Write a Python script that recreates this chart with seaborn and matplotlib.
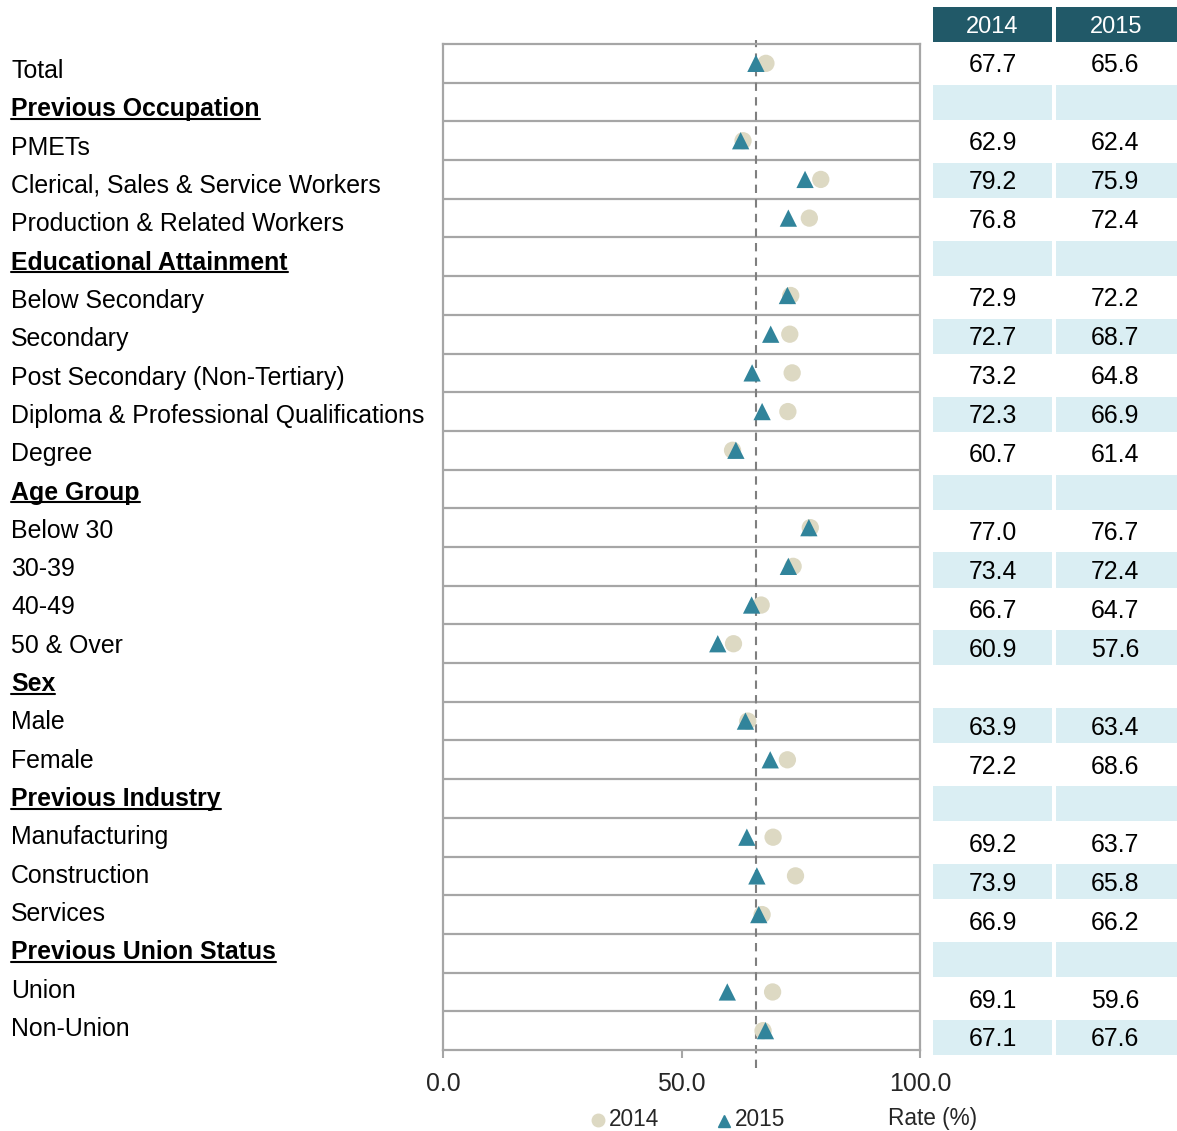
import numpy as np
import pandas as pd
import matplotlib
matplotlib.use("Agg")
import matplotlib.pyplot as plt
from matplotlib.lines import Line2D
from matplotlib.patches import Rectangle
import seaborn as sns

# ---- data -------------------------------------------------------------
row_labels = [
    "Total",
    "Previous Occupation",
    "PMETs",
    "Clerical, Sales & Service Workers",
    "Production & Related Workers",
    "Educational Attainment",
    "Below Secondary",
    "Secondary",
    "Post Secondary (Non-Tertiary)",
    "Diploma & Professional Qualifications",
    "Degree",
    "Age Group",
    "Below 30",
    "30-39",
    "40-49",
    "50 & Over",
    "Sex",
    "Male",
    "Female",
    "Previous Industry",
    "Manufacturing",
    "Construction",
    "Services",
    "Previous Union Status",
    "Union",
    "Non-Union",
]
section_headers = [
    "Previous Occupation",
    "Educational Attainment",
    "Age Group",
    "Sex",
    "Previous Industry",
    "Previous Union Status",
]
nan = np.nan
rate_2014 = [67.7, nan, 62.9, 79.2, 76.8, nan, 72.9, 72.7, 73.2, 72.3, 60.7,
             nan, 77.0, 73.4, 66.7, 60.9, nan, 63.9, 72.2, nan, 69.2, 73.9,
             66.9, nan, 69.1, 67.1]
rate_2015 = [65.6, nan, 62.4, 75.9, 72.4, nan, 72.2, 68.7, 64.8, 66.9, 61.4,
             nan, 76.7, 72.4, 64.7, 57.6, nan, 63.4, 68.6, nan, 63.7, 65.8,
             66.2, nan, 59.6, 67.6]
years = ["2014", "2015"]
x_ticks = [0.0, 50.0, 100.0]
reference_value = rate_2015[0]   # overall 2015 rate, drawn as dashed line

# ---- styling ----------------------------------------------------------
C_2014 = "#DDD9C3"
C_2015 = "#31849B"
HEADER = "#215968"
SHADE = "#DAEEF3"
GRID = "#A6A6A6"
FS = 17.9

sns.set_theme(style="white")
plt.rcParams["font.family"] = ["Liberation Sans", "DejaVu Sans"]

W, H = 1177, 1131
fig = plt.figure(figsize=(W / 100, H / 100), dpi=100)

def fx(px):
    return px / W

def fy(py):
    return 1 - py / H

# main dot plot axes
ax = fig.add_axes([fx(443), fy(1050), fx(920) - fx(443), fy(44) - fy(1050)])

n = len(row_labels)
rows = list(range(n))
df = pd.DataFrame({
    "row": rows * 2,
    "rate": rate_2014 + rate_2015,
    "year": [years[0]] * n + [years[1]] * n,
}).dropna()

sns.scatterplot(
    data=df, x="rate", y="row", hue="year", style="year",
    palette={"2014": C_2014, "2015": C_2015},
    markers={"2014": "o", "2015": "^"},
    s=155, linewidth=0, alpha=1, legend=False, ax=ax, zorder=3,
)

ax.set_xlim(0, 100)
ax.set_ylim(n - 0.5, -0.5)
ax.set_xlabel("")
ax.set_ylabel("")
ax.set_yticks([])
ax.set_xticks(x_ticks)
ax.set_xticklabels([f"{t:.1f}" for t in x_ticks], fontsize=FS)
ax.tick_params(axis="x", direction="out", length=6, width=1.5, color=GRID,
               pad=10, bottom=True)
for sp in ax.spines.values():
    sp.set_color(GRID)
    sp.set_linewidth(1.6)
    sp.set_visible(True)
for b in np.arange(0.5, n - 0.5, 1.0):
    ax.axhline(b, color=GRID, lw=1.6, zorder=1)

ax.axvline(reference_value, ymin=-0.018, ymax=1.004, color="#7F7F7F",
           lw=1.5, ls=(0, (4, 3)), zorder=2, clip_on=False)

# row labels on the left
label_texts = []
for i, lab in enumerate(row_labels):
    bold = lab in section_headers
    t = fig.text(fx(11), fy(78 + 38.32 * i), lab, fontsize=FS,
                 fontweight="bold" if bold else "normal",
                 ha="left", va="baseline", color="black")
    if bold:
        label_texts.append(t)

# value table on the right
tax = fig.add_axes([fx(933), fy(1057), 1 - fx(933), fy(44) - fy(1057)])
tax.set_xlim(0, 2)
tax.set_ylim(n, 0)
tax.axis("off")
col_edges = [(0.0, 0.976), (1.008, 2.0)]
for i in range(n):
    if i % 2 == 1:
        for x0, x1 in col_edges:
            tax.add_patch(Rectangle((x0, i + 0.05), x1 - x0, 0.9,
                                    facecolor=SHADE, edgecolor="none"))
    for c, vals in enumerate([rate_2014, rate_2015]):
        v = vals[i]
        if not np.isnan(v):
            tax.text(c + 0.49, i + 0.73, f"{v:.1f}", fontsize=FS,
                     ha="center", va="baseline", color="black")

# table header
for (x0, x1), yr in zip([(933, 1052), (1056, 1177)], years):
    fig.add_artist(Rectangle((fx(x0), fy(42)), fx(x1) - fx(x0), fy(7) - fy(42),
                             facecolor=HEADER, edgecolor="none",
                             transform=fig.transFigure))
    fig.text(fx((x0 + x1) / 2), fy(33), yr, fontsize=17, color="white",
             ha="center", va="baseline")

# legend and axis caption
fig.add_artist(Line2D([fx(598)], [fy(1120)], marker="o", color=C_2014,
                      markersize=9, linestyle="none", transform=fig.transFigure))
fig.text(fx(609), fy(1126), years[0], fontsize=16.3, ha="left", va="baseline")
fig.add_artist(Line2D([fx(724)], [fy(1121)], marker="^", color=C_2015,
                      markersize=9, linestyle="none", transform=fig.transFigure))
fig.text(fx(735), fy(1126), years[1], fontsize=16.3, ha="left", va="baseline")
fig.text(fx(888), fy(1125), "Rate (%)", fontsize=16.3, ha="left", va="baseline")

# underline the section headers
fig.canvas.draw()
renderer = fig.canvas.get_renderer()
for t in label_texts:
    bb = t.get_window_extent(renderer)
    _, y_base = t.get_position()
    y_line = y_base * H - 2.5
    fig.add_artist(Line2D([bb.x0 / W, bb.x1 / W], [y_line / H, y_line / H],
                          color="black", lw=1.5, transform=fig.transFigure))

fig.savefig("out.png", dpi=100)
